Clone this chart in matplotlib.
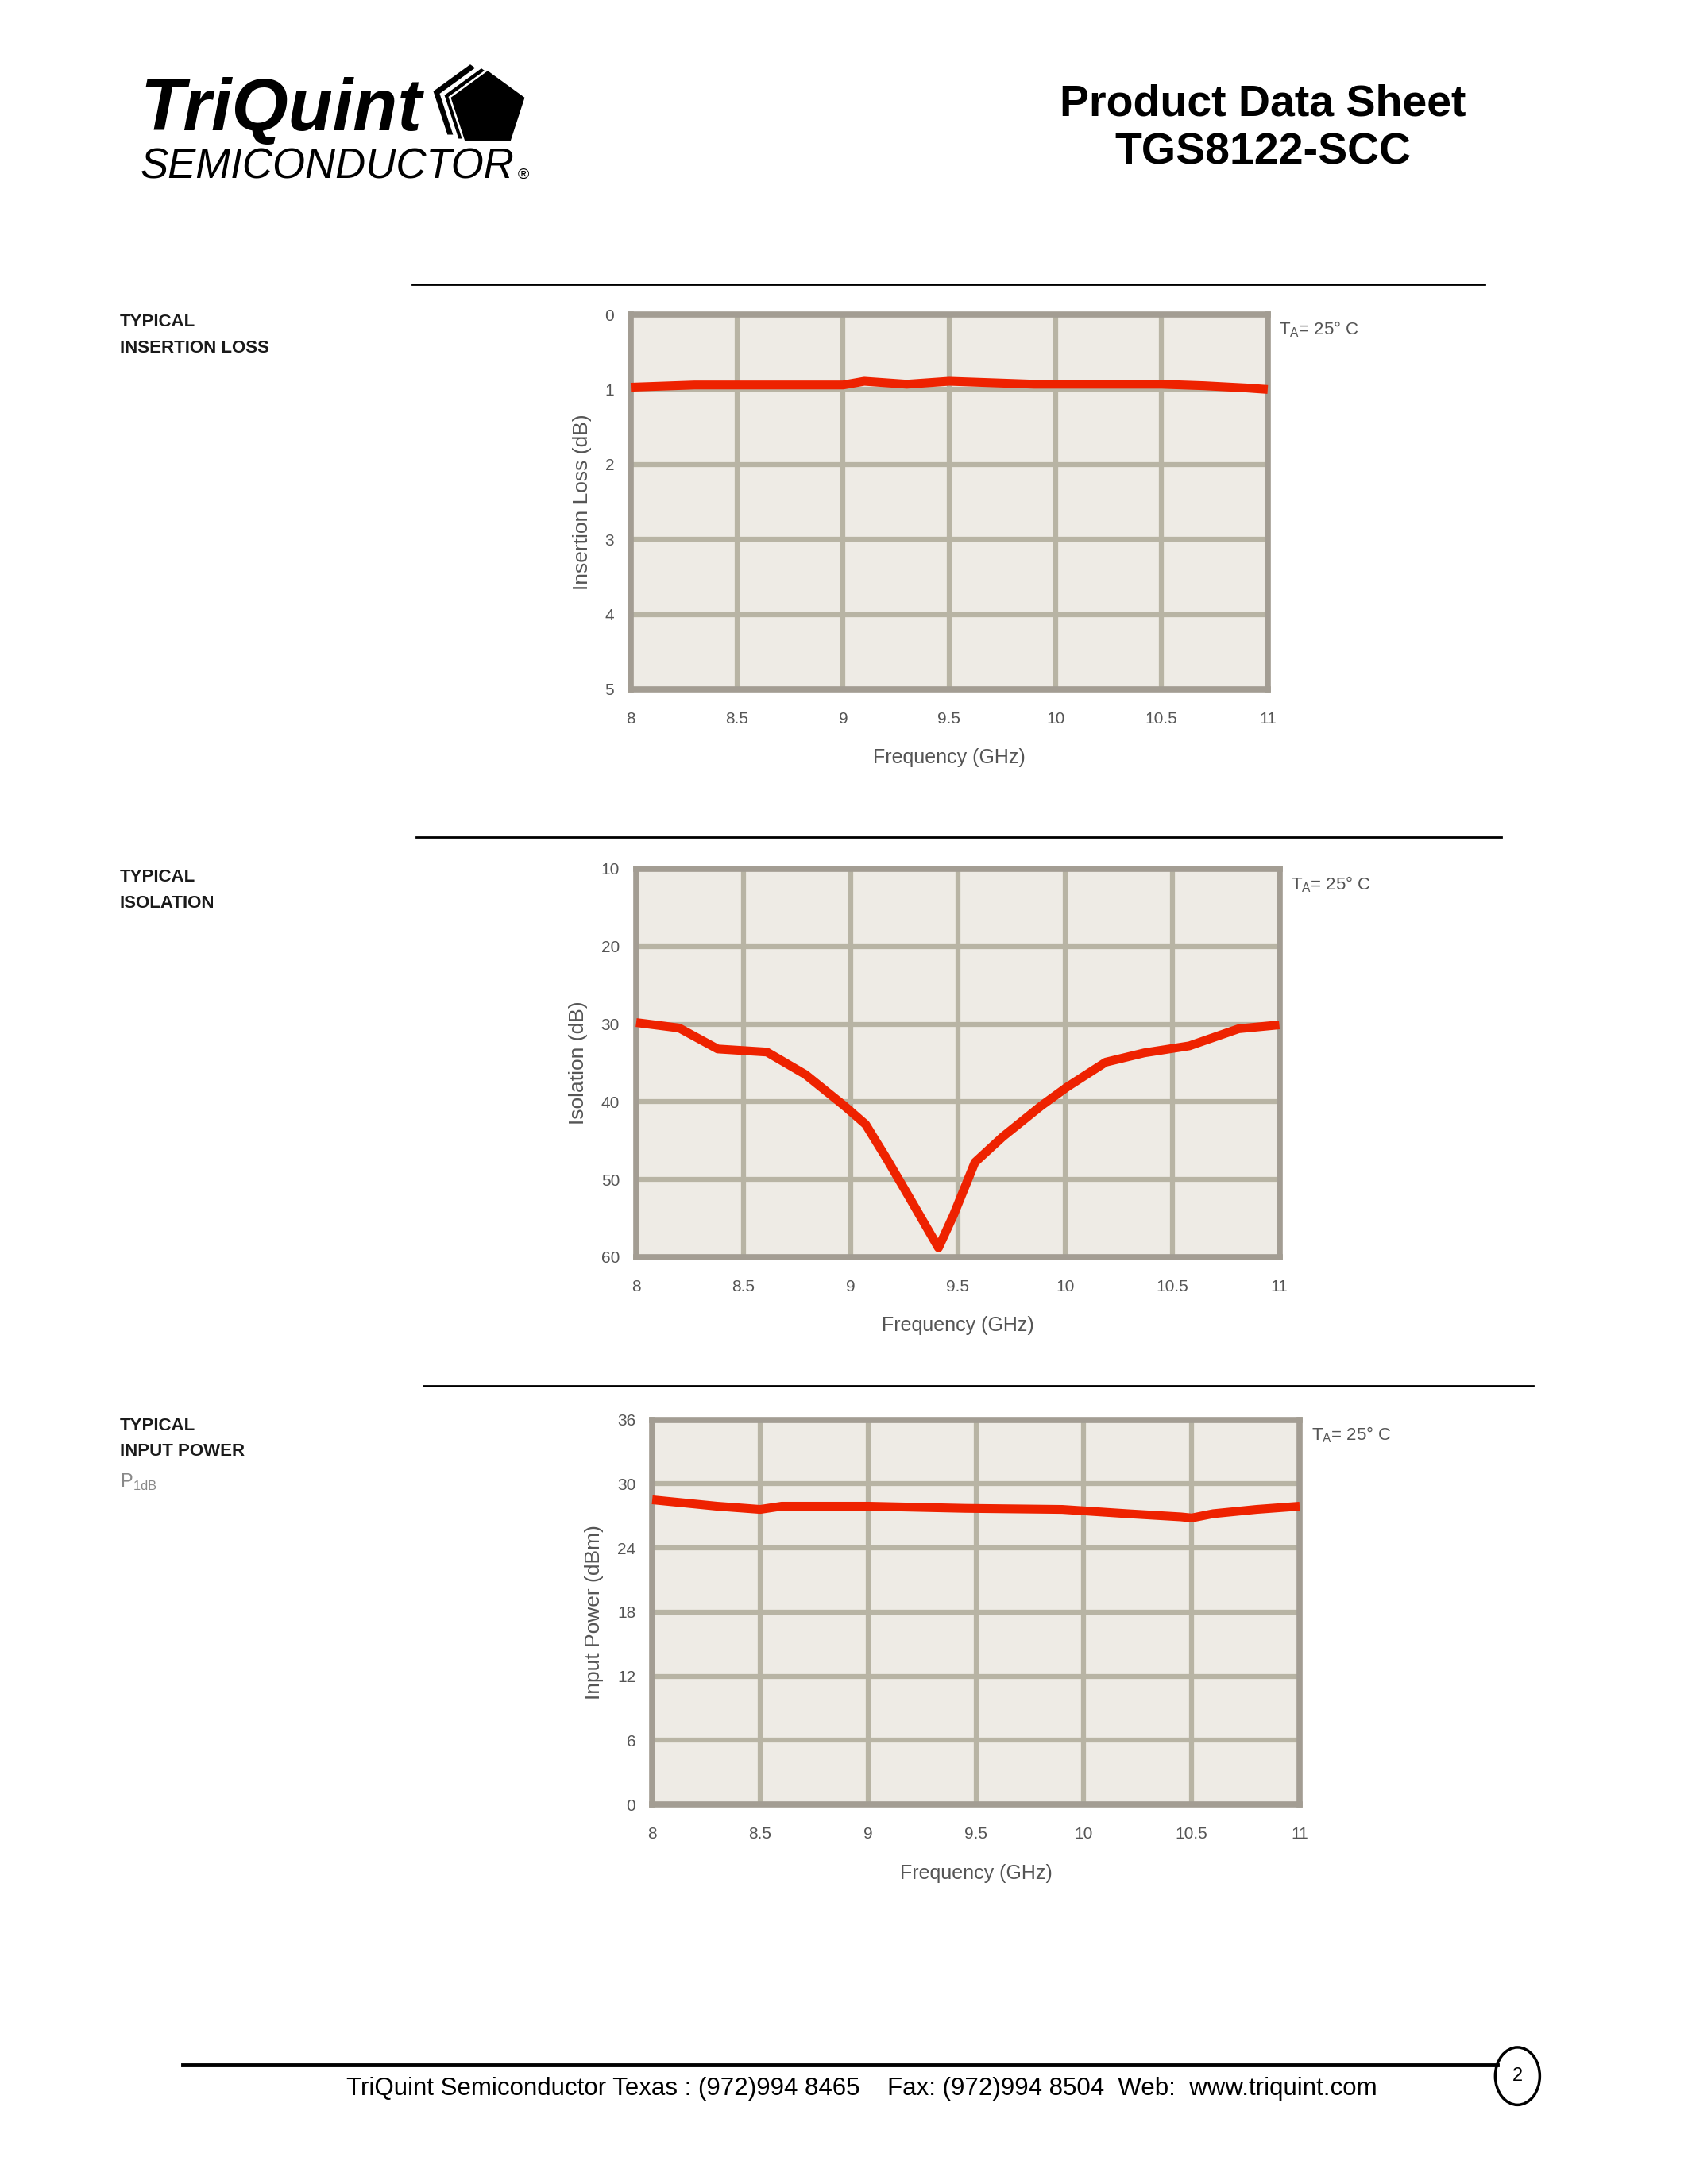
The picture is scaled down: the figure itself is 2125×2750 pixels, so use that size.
import numpy as np
import matplotlib.pyplot as plt
from matplotlib.patches import Polygon, Circle
from matplotlib.lines import Line2D

plt.rcParams['font.family'] = ['Liberation Sans', 'DejaVu Sans']

# data
freq_ticks = [8, 8.5, 9, 9.5, 10, 10.5, 11]
freq_tick_labels = ['8', '8.5', '9', '9.5', '10', '10.5', '11']

il_freq = [8.0, 8.3, 8.5, 9.0, 9.1, 9.3, 9.5, 9.9, 10.5, 10.7, 10.9, 11.0]
il_loss = [0.97, 0.94, 0.94, 0.94, 0.89, 0.93, 0.89, 0.93, 0.93, 0.95, 0.98, 1.0]
il_ticks = [0, 1, 2, 3, 4, 5]

iso_freq = [8.0, 8.2, 8.38, 8.61, 8.79, 8.97, 9.07, 9.17, 9.28, 9.41,
            9.48, 9.58, 9.71, 9.89, 10.01, 10.19, 10.37, 10.58, 10.81, 11.0]
iso_db = [29.8, 30.5, 33.2, 33.6, 36.5, 40.5, 42.9, 47.4, 52.6, 58.8,
          54.6, 47.8, 44.5, 40.5, 38.1, 34.9, 33.7, 32.8, 30.6, 30.1]
iso_ticks = [10, 20, 30, 40, 50, 60]

pin_freq = [8.0, 8.15, 8.3, 8.5, 8.6, 9.0, 9.45, 9.9, 10.2, 10.45, 10.5, 10.6, 10.8, 11.0]
pin_dbm = [28.5, 28.2, 27.9, 27.6, 27.9, 27.9, 27.7, 27.6, 27.2, 26.9, 26.8, 27.2, 27.6, 27.9]
pin_ticks = [0, 6, 12, 18, 24, 30, 36]

RED = '#ee2200'
FACE = '#eeebe5'
GRID = '#b8b4a4'
FRAME = '#a39d93'
TXT = '#555555'

fig = plt.figure(figsize=(21.25, 27.5), dpi=100)


def draw_chart(rect, x, y, yticks, ylim, ylabel):
    ax = fig.add_axes(rect)
    ax.set_facecolor(FACE)
    ax.plot(x, y, color=RED, lw=8, solid_capstyle='butt', clip_on=False, zorder=5)
    ax.set_xlim(8, 11)
    ax.set_ylim(*ylim)
    ax.set_xticks(freq_ticks)
    ax.set_xticklabels(freq_tick_labels)
    ax.set_yticks(yticks)
    ax.grid(True, color=GRID, lw=4.5)
    ax.set_axisbelow(True)
    for s in ax.spines.values():
        s.set_color(FRAME)
        s.set_linewidth(5.5)
    ax.tick_params(length=0, labelsize=15, labelcolor=TXT)
    ax.tick_params(axis='x', pad=20)
    ax.tick_params(axis='y', pad=15)
    ax.set_xlabel('Frequency (GHz)', fontsize=18, color=TXT, labelpad=20)
    ax.set_ylabel(ylabel, fontsize=19, color=TXT, labelpad=12)
    ax.text(1.018, 0.96, r'T$_\mathregular{A}$= 25° C', transform=ax.transAxes,
            fontsize=16, color=TXT, va='center', ha='left')
    return ax


draw_chart([0.3737, 0.6844, 0.3773, 0.1716], il_freq, il_loss, il_ticks, (5, 0), 'Insertion Loss (dB)')
draw_chart([0.3769, 0.4244, 0.3810, 0.1778], iso_freq, iso_db, iso_ticks, (60, 10), 'Isolation (dB)')
draw_chart([0.3864, 0.1738, 0.3835, 0.1762], pin_freq, pin_dbm, pin_ticks, (0, 36), 'Input Power (dBm)')

# section rules
for y0, x0, x1 in [(0.8699, 0.244, 0.8796), (0.6168, 0.2467, 0.8894), (0.3655, 0.2508, 0.9084)]:
    fig.add_artist(Line2D([x0, x1], [y0, y0], color='black', lw=2))

# section titles
sec = dict(fontsize=16, fontweight='bold', color='#1a1a1a', ha='left', va='center')
fig.text(0.071, 0.8527, 'TYPICAL', **sec)
fig.text(0.071, 0.8407, 'INSERTION LOSS', **sec)
fig.text(0.071, 0.5982, 'TYPICAL', **sec)
fig.text(0.071, 0.5862, 'ISOLATION', **sec)
fig.text(0.071, 0.3472, 'TYPICAL', **sec)
fig.text(0.071, 0.3356, 'INPUT POWER', **sec)
fig.text(0.071, 0.3212, r'P$_\mathregular{1dB}$', fontsize=17, color='#888888', ha='left', va='center')

# header
fig.text(0.083, 0.9490, 'TriQuint', fontsize=66, fontweight='bold', style='italic',
         ha='left', va='center', color='black')
fig.text(0.083, 0.9236, 'SEMICONDUCTOR', fontsize=38, style='italic',
         ha='left', va='center', color='black')
fig.text(0.3065, 0.9200, '®', fontsize=14, ha='left', va='center')

# pentagon mark
W, H = fig.get_size_inches() * fig.dpi
def pent(cx, cy, r):
    ang = np.deg2rad(90 + 72 * np.arange(5))
    return np.column_stack([(cx + r * np.cos(ang)) / W, (cy + r * np.sin(ang)) / H])

cx, cy, r = 614, 2612, 48
fig.add_artist(Polygon(pent(cx - 22, cy + 8, r), closed=True, fc='black', ec='black'))
fig.add_artist(Polygon(pent(cx - 14, cy + 5, r), closed=True, fc='white', ec='white'))
fig.add_artist(Polygon(pent(cx - 8, cy + 3, r), closed=True, fc='black', ec='black'))
fig.add_artist(Polygon(pent(cx - 3, cy + 1, r), closed=True, fc='white', ec='white'))
fig.add_artist(Polygon(pent(cx, cy, r), closed=True, fc='black', ec='black'))

fig.text(0.748, 0.9520, 'Product Data Sheet', fontsize=40, fontweight='bold', ha='center', va='center')
fig.text(0.748, 0.9300, 'TGS8122-SCC', fontsize=40, fontweight='bold', ha='center', va='center')

# footer
fig.add_artist(Line2D([0.108, 0.887], [0.0545, 0.0545], color='black', lw=3.5))
fig.add_artist(Circle((0.899, 0.0494), 28 / W, transform=fig.transFigure, fill=False, ec='black', lw=2.5))
fig.text(0.899, 0.0494, '2', fontsize=17, ha='center', va='center')
fig.text(0.5107, 0.0436,
         'TriQuint Semiconductor Texas : (972)994 8465    Fax: (972)994 8504  Web:  www.triquint.com',
         fontsize=22.5, ha='center', va='center')

fig.savefig('out.png', dpi=100, facecolor='white')
